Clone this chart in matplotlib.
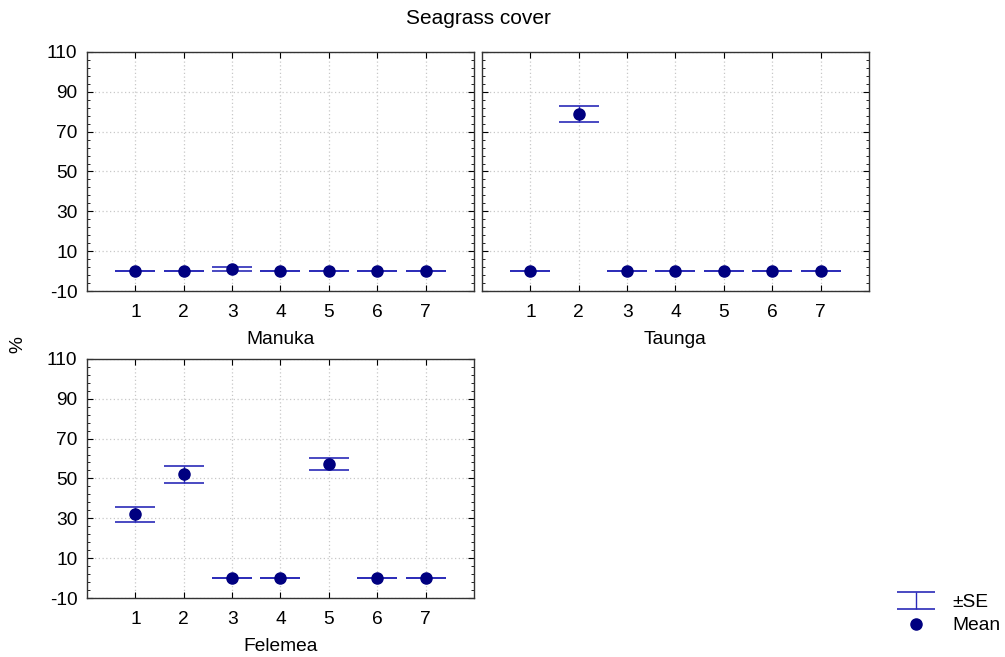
import numpy as np
import matplotlib
matplotlib.use('Agg')
import matplotlib.pyplot as plt
from matplotlib.ticker import AutoMinorLocator
from matplotlib.lines import Line2D
from matplotlib.legend_handler import HandlerErrorbar

plt.rcParams['font.family'] = ['Liberation Sans', 'DejaVu Sans']
plt.rcParams['axes.unicode_minus'] = False

# Data
categories = [1, 2, 3, 4, 5, 6, 7]
sites = ['Manuka', 'Taunga', 'Felemea']

manuka_mean = [0, 0, 1.0, 0, 0, 0, 0]
manuka_se = [0, 0, 1.0, 0, 0, 0, 0]

taunga_mean = [0, 79.0, 0, 0, 0, 0, 0]
taunga_se = [0, 4.1, 0, 0, 0, 0, 0]

felemea_mean = [32.0, 52.0, 0, 0, 57.2, 0, 0]
felemea_se = [3.7, 4.2, 0, 0, 3.0, 0, 0]

y_ticks = [-10, 10, 30, 50, 70, 90, 110]

mean_color = '#000080'
se_color = '#2a2ab8'
fs_tick = 13.8
fs_label = 13.8

fig = plt.figure(figsize=(10.05, 6.57), dpi=100)

# panel positions in figure fraction [left, bottom, width, height]
positions = [
    [0.0866, 0.557, 0.385, 0.364],
    [0.4796, 0.557, 0.385, 0.364],
    [0.0866, 0.0898, 0.385, 0.364],
]
means = [manuka_mean, taunga_mean, felemea_mean]
ses = [manuka_se, taunga_se, felemea_se]

axes = []
for i, (pos, m, se, name) in enumerate(zip(positions, means, ses, sites)):
    ax = fig.add_axes(pos)
    ax.errorbar(categories, m, yerr=se, fmt='none', ecolor=se_color,
                elinewidth=1.0, capsize=14.5, capthick=1.2, zorder=2)
    ax.plot(categories, m, 'o', color=mean_color, markersize=8, zorder=3)

    ax.set_xlim(0, 8)
    ax.set_ylim(-10, 110)
    ax.set_xticks(categories)
    ax.set_yticks(y_ticks)
    ax.yaxis.set_minor_locator(AutoMinorLocator(5))
    ax.grid(True, which='major', color='#c8c8c8', linestyle=(0, (1, 2)), linewidth=0.9)
    ax.set_axisbelow(True)
    ax.tick_params(which='both', direction='in', top=True, right=True, labelsize=fs_tick)
    ax.tick_params(which='major', length=4)
    ax.tick_params(which='minor', length=2.5)
    ax.tick_params(axis='x', pad=9)
    ax.tick_params(axis='y', pad=7)
    for s in ax.spines.values():
        s.set_color('#333333')
        s.set_linewidth(1.0)
    ax.set_xlabel(name, fontsize=fs_label, labelpad=7.5)
    if i == 1:
        ax.tick_params(labelleft=False)
    axes.append(ax)

fig.text(0.4765, 0.972, 'Seagrass cover', ha='center', va='center', fontsize=15)
fig.text(0.018, 0.475, '%', ha='center', va='center', rotation=90, fontsize=fs_label)

# legend
h_se = axes[2].errorbar([np.nan], [np.nan], yerr=[1], fmt='none', ecolor=se_color,
                        elinewidth=1.0, capsize=13.5, capthick=1.2)
h_mean = Line2D([], [], marker='o', linestyle='none', color=mean_color, markersize=8)
fig.legend([h_se, h_mean], ['±SE', 'Mean'], loc='lower left',
           bbox_to_anchor=(0.868, 0.008), frameon=False, fontsize=fs_label,
           handlelength=2.8, handletextpad=0.45, labelspacing=0.3,
           handler_map={type(h_se): HandlerErrorbar(yerr_size=0.45)})

fig.savefig('out.png', dpi=100)
